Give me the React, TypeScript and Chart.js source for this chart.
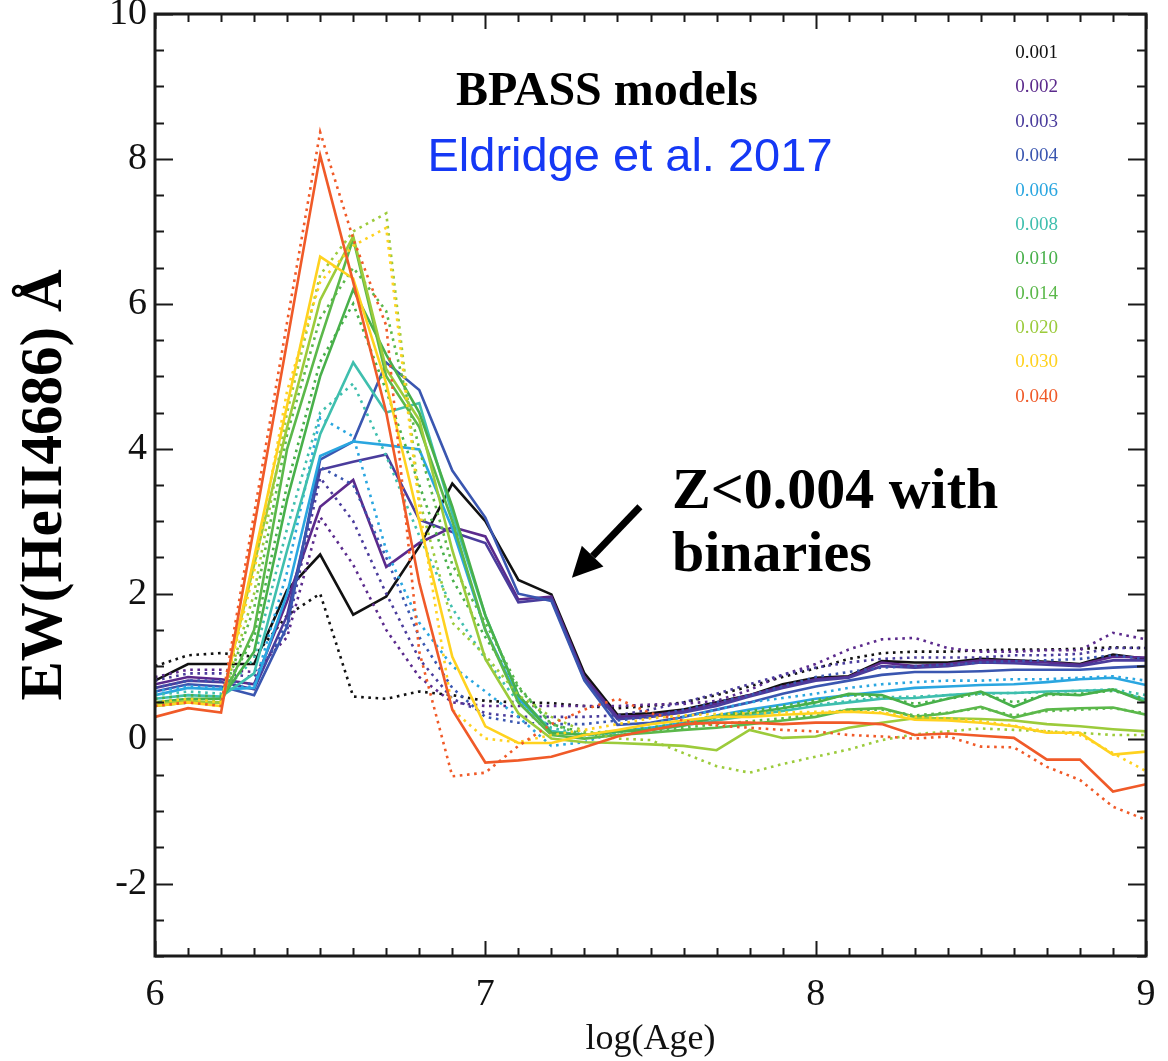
import React, { useEffect, useRef } from 'react';
import { Chart, registerables } from 'chart.js';

Chart.register(...registerables);

// ---------- data ----------
const logAge = [6.0, 6.1, 6.2, 6.3, 6.4, 6.5, 6.6, 6.7, 6.8, 6.9, 7.0, 7.1, 7.2, 7.3, 7.4, 7.5, 7.6, 7.7, 7.8, 7.9, 8.0, 8.1, 8.2, 8.3, 8.4, 8.5, 8.6, 8.7, 8.8, 8.9, 9.0];

const metallicities = ['0.001', '0.002', '0.003', '0.004', '0.006', '0.008', '0.010', '0.014', '0.020', '0.030', '0.040'];

const seriesColors = ['#111111', '#5b2a8c', '#4a3c9c', '#3a56b0', '#2aa6e0', '#3fbfae', '#48b04a', '#5bb84a', '#9ccb3b', '#ffd21f', '#f05a28'];

// solid lines: binary models
const z001Bin = [0.80, 1.03, 1.03, 1.03, 2.05, 2.54, 1.71, 1.96, 2.65, 3.52, 3.00, 2.19, 1.99, 0.90, 0.33, 0.35, 0.40, 0.50, 0.60, 0.75, 0.84, 0.86, 1.07, 1.05, 1.05, 1.10, 1.08, 1.06, 1.03, 1.16, 1.10];
const z002Bin = [0.75, 0.85, 0.82, 0.75, 1.90, 3.20, 3.57, 2.37, 2.70, 2.92, 2.79, 1.92, 1.96, 0.85, 0.30, 0.32, 0.38, 0.48, 0.60, 0.72, 0.82, 0.85, 1.05, 1.00, 1.03, 1.08, 1.07, 1.05, 1.02, 1.13, 1.12];
const z003Bin = [0.70, 0.80, 0.78, 0.68, 1.70, 3.71, 3.82, 3.92, 3.02, 2.85, 2.70, 1.88, 1.93, 0.82, 0.27, 0.30, 0.36, 0.45, 0.58, 0.70, 0.80, 0.84, 1.00, 0.98, 1.00, 1.05, 1.04, 1.02, 1.00, 1.08, 1.08];
const z004Bin = [0.65, 0.75, 0.72, 0.60, 1.55, 3.85, 4.10, 5.19, 4.81, 3.70, 3.05, 2.00, 1.90, 0.80, 0.19, 0.22, 0.30, 0.40, 0.50, 0.62, 0.72, 0.80, 0.88, 0.92, 0.92, 0.93, 0.95, 0.95, 0.95, 0.98, 1.00];
const z006Bin = [0.60, 0.70, 0.68, 0.70, 2.00, 3.90, 4.10, 4.05, 3.99, 2.90, 1.50, 0.55, 0.10, 0.05, 0.10, 0.15, 0.22, 0.32, 0.40, 0.47, 0.55, 0.60, 0.65, 0.70, 0.72, 0.74, 0.75, 0.78, 0.82, 0.84, 0.74];
const z008Bin = [0.55, 0.60, 0.58, 0.90, 2.60, 4.20, 5.19, 4.50, 4.63, 3.10, 1.70, 0.60, 0.10, 0.05, 0.10, 0.12, 0.18, 0.25, 0.32, 0.38, 0.45, 0.50, 0.55, 0.56, 0.60, 0.63, 0.63, 0.65, 0.66, 0.67, 0.54];
const z010Bin = [0.50, 0.55, 0.55, 1.20, 3.30, 5.00, 6.20, 5.30, 4.50, 3.20, 1.70, 0.60, 0.08, 0.05, 0.10, 0.12, 0.18, 0.30, 0.35, 0.42, 0.50, 0.62, 0.60, 0.44, 0.55, 0.65, 0.44, 0.62, 0.60, 0.68, 0.50];
const z014Bin = [0.45, 0.50, 0.50, 1.50, 4.00, 5.50, 6.90, 5.00, 4.30, 3.00, 1.50, 0.50, 0.05, 0.00, 0.05, 0.08, 0.12, 0.15, 0.20, 0.25, 0.30, 0.40, 0.42, 0.30, 0.35, 0.44, 0.29, 0.40, 0.42, 0.43, 0.33];
const z020Bin = [0.48, 0.52, 0.50, 2.40, 4.30, 6.05, 6.93, 5.10, 4.40, 2.60, 1.10, 0.35, 0.00, -0.05, -0.06, -0.08, -0.10, -0.16, 0.12, 0.01, 0.03, 0.15, 0.22, 0.28, 0.28, 0.27, 0.25, 0.20, 0.17, 0.13, 0.10];
const z030Bin = [0.45, 0.50, 0.45, 2.50, 4.60, 6.65, 6.35, 4.90, 3.00, 1.13, 0.17, -0.06, -0.06, 0.05, 0.12, 0.20, 0.25, 0.30, 0.30, 0.33, 0.35, 0.37, 0.35, 0.26, 0.25, 0.22, 0.17, 0.08, 0.08, -0.22, -0.18];
const z040Bin = [0.30, 0.42, 0.36, 2.92, 5.48, 8.05, 6.30, 4.50, 2.15, 0.40, -0.33, -0.30, -0.25, -0.12, 0.03, 0.12, 0.20, 0.22, 0.22, 0.20, 0.22, 0.22, 0.20, 0.05, 0.07, 0.04, 0.01, -0.29, -0.29, -0.73, -0.63];

// dotted lines: single-star models
const z001Sin = [1.00, 1.15, 1.18, 1.13, 1.70, 2.00, 0.58, 0.55, 0.65, 0.60, 0.52, 0.50, 0.49, 0.45, 0.42, 0.45, 0.50, 0.60, 0.72, 0.85, 0.97, 1.10, 1.18, 1.20, 1.20, 1.22, 1.23, 1.23, 1.24, 1.26, 1.25];
const z002Sin = [0.85, 0.95, 0.95, 0.92, 1.40, 3.06, 2.40, 1.50, 0.85, 0.50, 0.45, 0.45, 0.45, 0.45, 0.45, 0.47, 0.48, 0.52, 0.67, 0.88, 1.03, 1.23, 1.37, 1.39, 1.25, 1.20, 1.20, 1.22, 1.22, 1.46, 1.37];
const z003Sin = [0.80, 0.90, 0.90, 0.85, 1.50, 3.60, 3.00, 2.00, 1.10, 0.55, 0.35, 0.30, 0.30, 0.30, 0.32, 0.40, 0.50, 0.62, 0.75, 0.88, 0.98, 1.05, 1.10, 1.12, 1.12, 1.12, 1.15, 1.15, 1.17, 1.25, 1.25];
const z004Sin = [0.70, 0.80, 0.80, 0.75, 1.60, 3.75, 3.50, 2.50, 1.40, 0.70, 0.30, 0.22, 0.20, 0.20, 0.25, 0.30, 0.40, 0.50, 0.60, 0.72, 0.85, 0.92, 0.98, 1.00, 1.02, 1.05, 1.07, 1.08, 1.10, 1.15, 1.10];
const z006Sin = [0.65, 0.72, 0.70, 0.72, 2.30, 4.43, 4.17, 2.60, 1.60, 1.00, 0.65, 0.30, -0.10, -0.05, 0.10, 0.20, 0.30, 0.40, 0.50, 0.56, 0.62, 0.70, 0.75, 0.78, 0.80, 0.80, 0.82, 0.82, 0.84, 0.86, 0.80];
const z008Sin = [0.60, 0.65, 0.62, 1.10, 2.90, 4.50, 4.90, 3.90, 2.80, 1.80, 1.10, 0.50, 0.15, 0.05, 0.08, 0.15, 0.20, 0.27, 0.33, 0.40, 0.47, 0.52, 0.57, 0.58, 0.60, 0.62, 0.63, 0.64, 0.66, 0.68, 0.60];
const z010Sin = [0.55, 0.60, 0.58, 1.40, 3.50, 5.20, 6.00, 4.80, 3.50, 2.20, 1.40, 0.70, 0.20, 0.08, 0.10, 0.15, 0.22, 0.32, 0.38, 0.45, 0.53, 0.60, 0.58, 0.48, 0.55, 0.62, 0.50, 0.60, 0.62, 0.66, 0.55];
const z014Sin = [0.50, 0.55, 0.53, 1.80, 4.20, 5.80, 6.50, 5.90, 4.00, 2.40, 1.60, 0.72, 0.20, 0.05, 0.05, 0.10, 0.15, 0.20, 0.24, 0.28, 0.33, 0.40, 0.40, 0.32, 0.36, 0.42, 0.32, 0.38, 0.40, 0.42, 0.35];
const z020Sin = [0.45, 0.50, 0.48, 2.00, 4.50, 6.40, 7.00, 7.25, 3.30, 1.60, 1.15, 0.60, 0.30, 0.10, 0.00, -0.02, -0.20, -0.38, -0.47, -0.35, -0.25, -0.15, -0.02, 0.06, 0.10, 0.14, 0.12, 0.10, 0.08, 0.05, 0.05];
const z030Sin = [0.50, 0.55, 0.50, 2.30, 4.80, 6.30, 6.80, 7.05, 3.20, 0.40, 0.00, -0.05, 0.05, 0.12, 0.20, 0.28, 0.32, 0.34, 0.35, 0.36, 0.37, 0.38, 0.36, 0.30, 0.28, 0.24, 0.18, 0.10, 0.05, -0.20, -0.45];
const z040Sin = [0.45, 0.50, 0.45, 3.10, 5.75, 8.37, 6.90, 5.70, 1.20, -0.52, -0.47, -0.10, 0.20, 0.40, 0.55, 0.35, 0.25, 0.18, 0.15, 0.12, 0.10, 0.05, 0.03, 0.00, 0.03, -0.11, -0.12, -0.39, -0.57, -0.94, -1.12];

const binarySeries = [z001Bin, z002Bin, z003Bin, z004Bin, z006Bin, z008Bin, z010Bin, z014Bin, z020Bin, z030Bin, z040Bin];
const singleSeries = [z001Sin, z002Sin, z003Sin, z004Sin, z006Sin, z008Sin, z010Sin, z014Sin, z020Sin, z030Sin, z040Sin];

const xAxisRange = [6, 9];
const yAxisRange = [-3, 10];

// ---------- drawing helpers ----------
const SERIF = '"Liberation Serif", "Times New Roman", serif';
const SANS = '"Liberation Sans", Arial, sans-serif';

const framePlugin = {
  id: 'idlFrame',
  afterDatasetsDraw(chart: any) {
    const { ctx, chartArea, scales } = chart;
    const { left, right, top, bottom } = chartArea;
    const xs = scales.x;
    const ys = scales.y;
    ctx.save();
    ctx.strokeStyle = '#1a1a1a';
    ctx.lineWidth = 3;
    ctx.strokeRect(left, top, right - left, bottom - top);
    ctx.lineWidth = 2;
    ctx.beginPath();
    for (let i = 0; i <= 30; i++) {
      const v = xAxisRange[0] + i * 0.1;
      const px = Math.round(xs.getPixelForValue(v)) + 0.5;
      const len = i % 10 === 0 ? 15 : 8;
      ctx.moveTo(px, bottom);
      ctx.lineTo(px, bottom - len);
      ctx.moveTo(px, top);
      ctx.lineTo(px, top + len);
    }
    for (let i = 0; i <= 26; i++) {
      const v = yAxisRange[0] + i * 0.5;
      const py = Math.round(ys.getPixelForValue(v)) + 0.5;
      const len = Math.abs(v % 2) < 1e-9 ? 18 : 9;
      ctx.moveTo(left, py);
      ctx.lineTo(left + len, py);
      ctx.moveTo(right, py);
      ctx.lineTo(right - len, py);
    }
    ctx.stroke();

    const X = (v: number) => xs.getPixelForValue(v);
    const Y = (v: number) => ys.getPixelForValue(v);

    // title annotations
    ctx.fillStyle = '#000';
    ctx.textBaseline = 'middle';
    ctx.textAlign = 'center';
    ctx.font = `bold 48px ${SERIF}`;
    ctx.fillText('BPASS models', X(7.368), Y(8.91));
    ctx.fillStyle = '#1538f5';
    ctx.font = `47px ${SANS}`;
    ctx.fillText('Eldridge et al. 2017', X(7.438), Y(8.01));

    // Z<0.004 annotation
    ctx.fillStyle = '#000';
    ctx.textAlign = 'left';
    ctx.font = `bold 58px ${SERIF}`;
    ctx.fillText('Z<0.004 with', X(7.565), Y(3.39));
    ctx.fillText('binaries', X(7.565), Y(2.52));

    // arrow
    const tx = X(7.468), ty = Y(3.20);
    const hx = X(7.262), hy = Y(2.22);
    const ang = Math.atan2(hy - ty, hx - tx);
    const headLen = 30, headW = 15;
    const bx = hx - headLen * Math.cos(ang);
    const by = hy - headLen * Math.sin(ang);
    ctx.strokeStyle = '#000';
    ctx.lineWidth = 7;
    ctx.beginPath();
    ctx.moveTo(tx, ty);
    ctx.lineTo(bx, by);
    ctx.stroke();
    ctx.beginPath();
    ctx.moveTo(hx, hy);
    ctx.lineTo(bx + headW * Math.sin(ang), by - headW * Math.cos(ang));
    ctx.lineTo(bx - headW * Math.sin(ang), by + headW * Math.cos(ang));
    ctx.closePath();
    ctx.fill();

    // metallicity legend
    ctx.font = `19px ${SERIF}`;
    ctx.textAlign = 'left';
    metallicities.forEach((z, i) => {
      ctx.fillStyle = seriesColors[i];
      ctx.fillText(z, X(8.604), Y(9.462 - i * 0.4745));
    });
    ctx.restore();
  },
};

export default function App() {
  const canvasRef = useRef<HTMLCanvasElement | null>(null);

  useEffect(() => {
    const canvas = canvasRef.current;
    if (!canvas) return;
    const datasets: any[] = [];
    metallicities.forEach((z, i) => {
      datasets.push({
        label: `Z=${z} single`,
        data: logAge.map((a, k) => ({ x: a, y: singleSeries[i][k] })),
        borderColor: seriesColors[i],
        borderWidth: 2.6,
        borderDash: [2.6, 4.6],
        pointRadius: 0,
        tension: 0,
        fill: false,
        order: 1000 - i * 10 + 5,
      });
      datasets.push({
        label: `Z=${z} binary`,
        data: logAge.map((a, k) => ({ x: a, y: binarySeries[i][k] })),
        borderColor: seriesColors[i],
        borderWidth: 2.6,
        pointRadius: 0,
        tension: 0,
        fill: false,
        order: 1000 - i * 10,
      });
    });

    const chart = new Chart(canvas, {
      type: 'line',
      data: { datasets },
      options: {
        animation: false,
        responsive: false,
        devicePixelRatio: 1,
        layout: { padding: { left: 0, top: 14, right: 22, bottom: 0 } },
        plugins: { legend: { display: false }, tooltip: { enabled: false } },
        scales: {
          x: {
            type: 'linear',
            min: xAxisRange[0],
            max: xAxisRange[1],
            grid: { display: false, drawTicks: false },
            border: { display: false },
            ticks: {
              stepSize: 1,
              padding: 16,
              color: '#111',
              font: { family: SERIF, size: 38 },
              callback: (v: any) => String(v),
            },
            title: {
              display: true,
              text: 'log(Age)',
              color: '#111',
              font: { family: SERIF, size: 36 },
              padding: { top: 0, bottom: 0 },
            },
            afterFit: (scale: any) => {
              scale.height = 105;
              scale.paddingLeft = 0;
              scale.paddingRight = 0;
            },
          },
          y: {
            type: 'linear',
            min: yAxisRange[0],
            max: yAxisRange[1],
            grid: { display: false, drawTicks: false },
            border: { display: false },
            ticks: {
              stepSize: 2,
              includeBounds: false,
              padding: 8,
              color: '#111',
              font: { family: SERIF, size: 38 },
            },
            title: {
              display: true,
              text: 'EW(HeII4686) Å',
              color: '#000',
              font: { family: SERIF, size: 59, weight: 'bold' },
              padding: { top: 10, bottom: 0 },
            },
            afterFit: (scale: any) => {
              scale.width = 155;
              scale.paddingTop = 0;
              scale.paddingBottom = 0;
            },
          },
        },
      },
      plugins: [framePlugin],
    } as any);

    return () => chart.destroy();
  }, []);

  return (
    <div style={{ position: 'absolute', left: 0, top: 0, width: 1168, height: 1061, background: '#fff' }}>
      <canvas ref={canvasRef} width={1168} height={1061} style={{ display: 'block' }} />
    </div>
  );
}
